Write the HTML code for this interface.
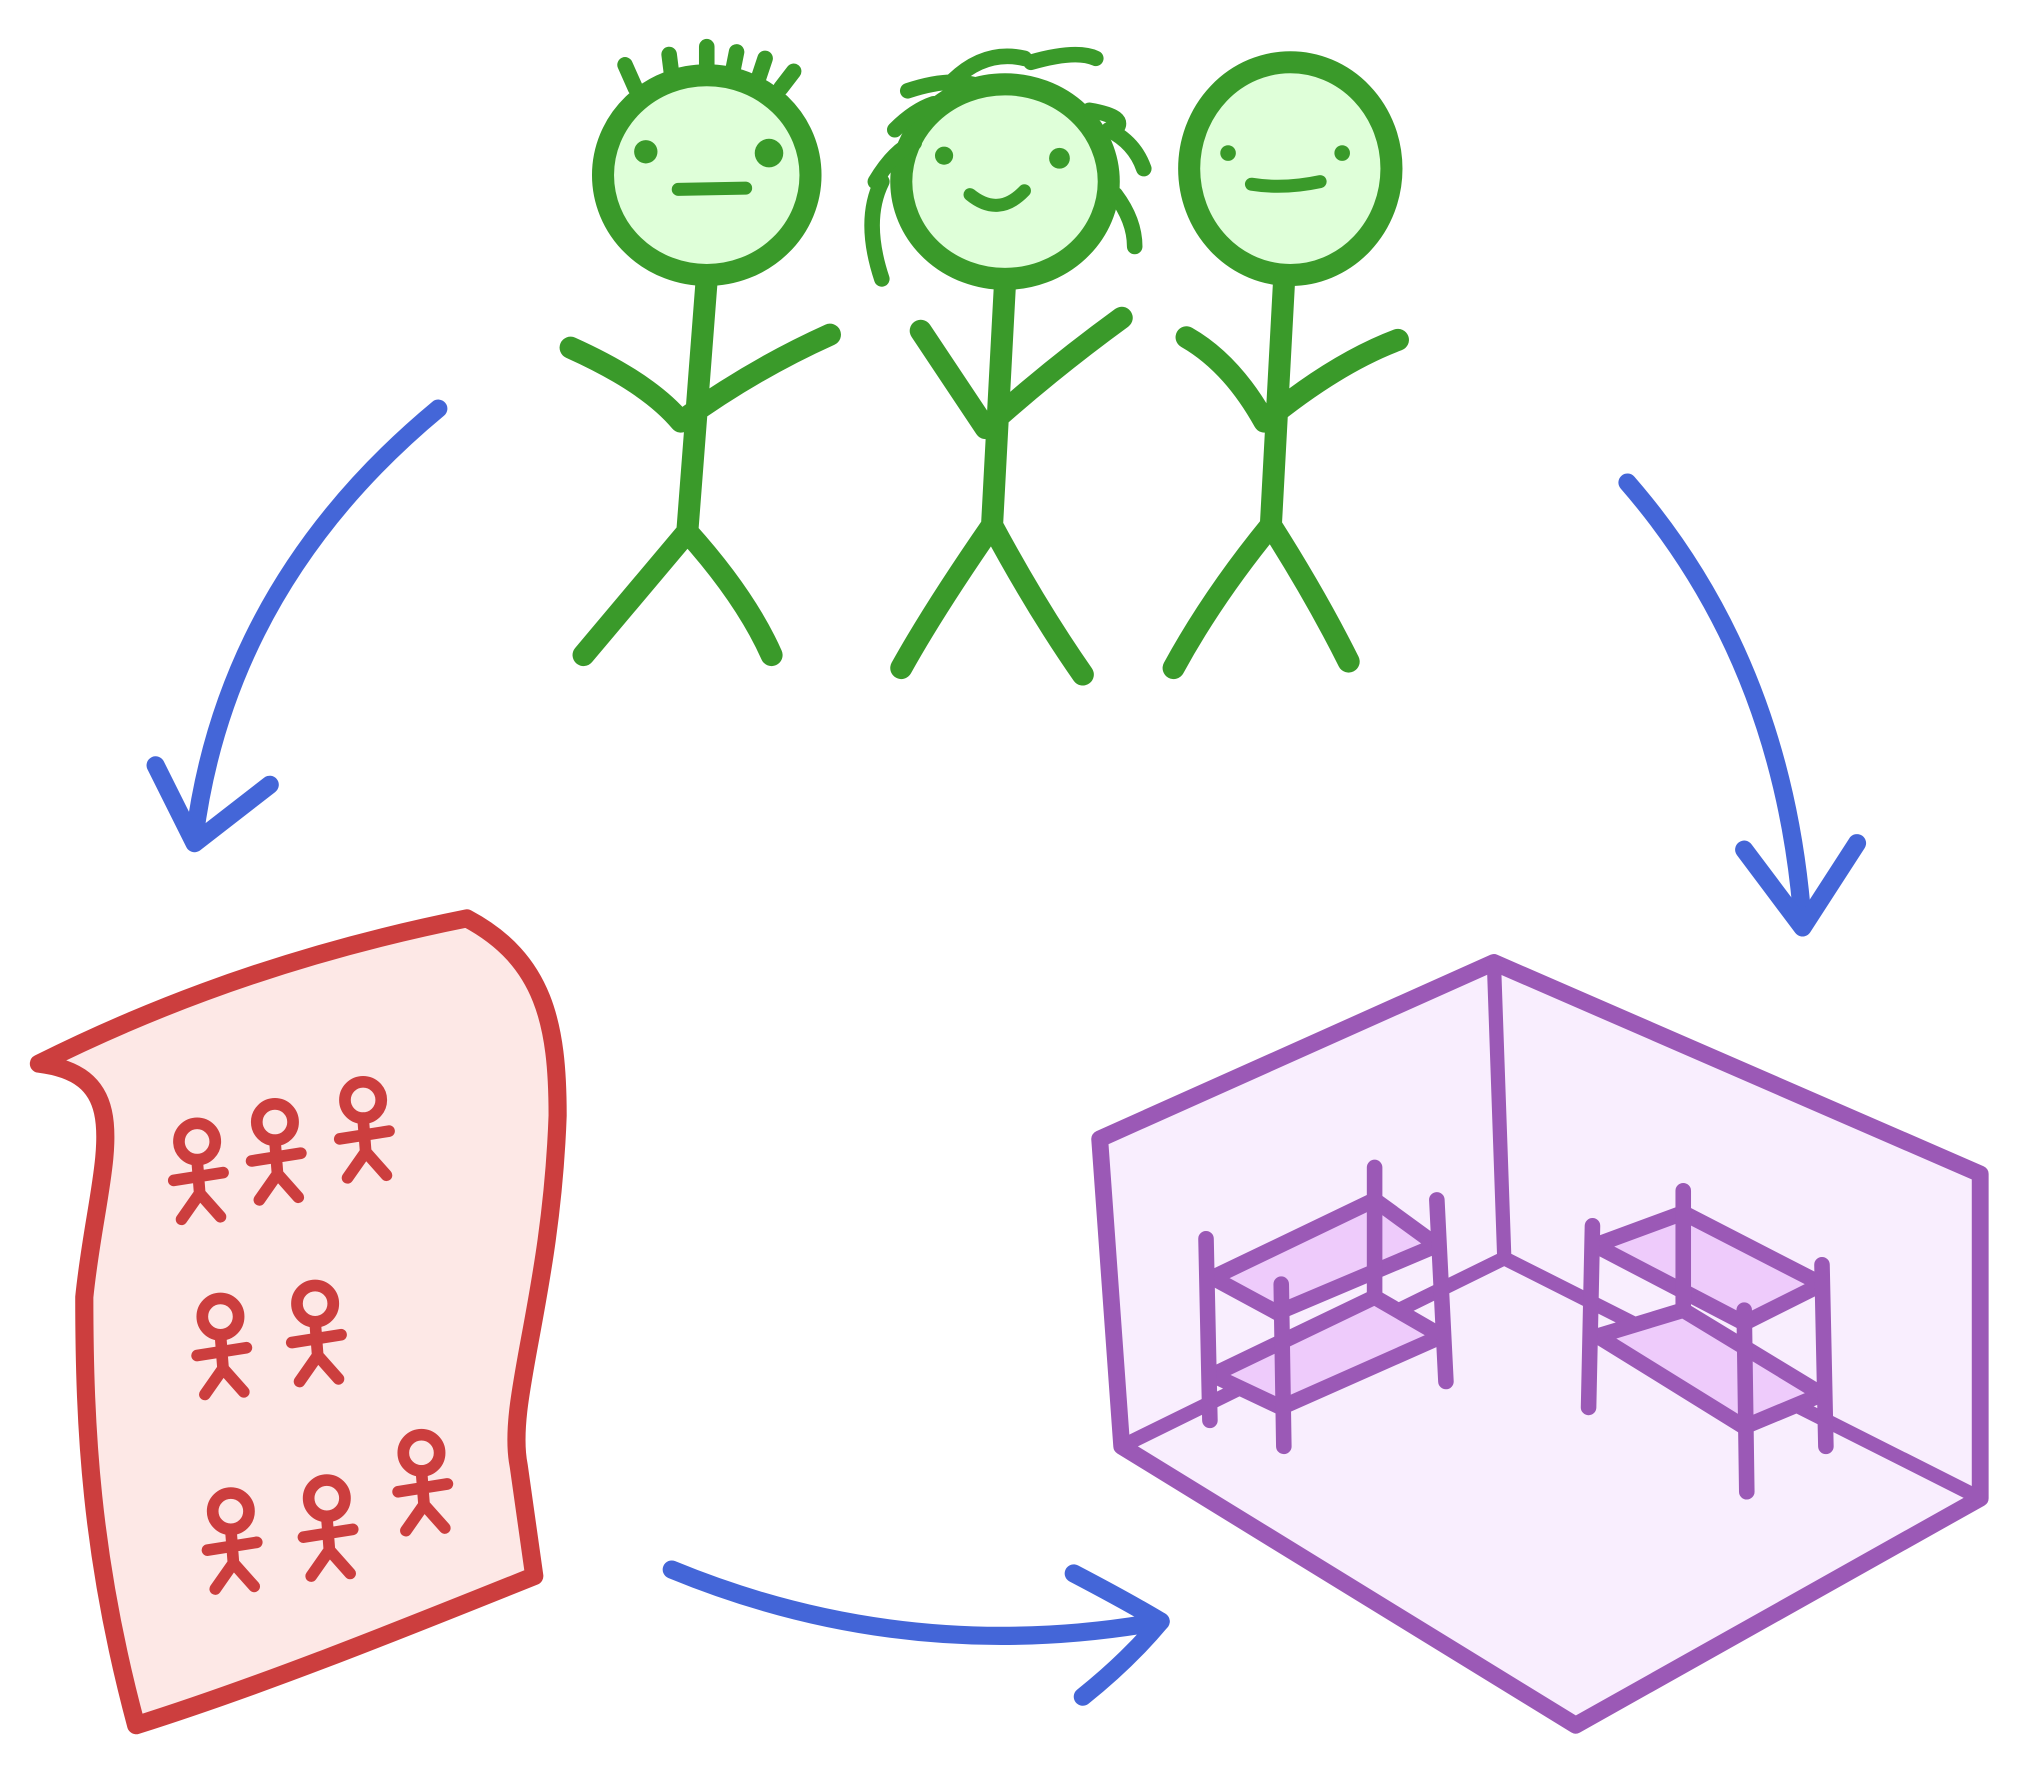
<!DOCTYPE html>
<html><head><meta charset="utf-8"><style>
html,body{margin:0;padding:0;background:#fff;}
svg{display:block;}
</style></head><body>
<svg width="2023" height="1781" viewBox="0 0 1560 1373" preserveAspectRatio="none" xmlns="http://www.w3.org/2000/svg">
<defs>
<g id="mini" fill="none" stroke="#cc3e3e" stroke-width="9" stroke-linecap="round" stroke-linejoin="round">
  <ellipse cx="0" cy="0" rx="14" ry="14"/>
  <path d="M0,14 L2,40 M-18,30 L20,24 M2,40 L-12,60 M2,40 L18,58"/>
</g>
</defs>
<g fill="none" stroke-linecap="round" stroke-linejoin="round">
<g stroke="#3a9a2a" stroke-width="17">
  <ellipse cx="545" cy="135" rx="80" ry="77" fill="#dfffd9"/>
  <path d="M545,215 L530,410 M440,268 Q500,295 525,325 Q580,285 640,258 M530,410 L450,505 M530,410 Q575,460 595,505"/>
  <path d="M482,50 L490,68 M516,42 L518,58 M545,36 L545,52 M568,40 L565,55 M590,45 L585,60 M612,55 L602,68" stroke-width="12"/>
  <ellipse cx="775" cy="140" rx="80" ry="75" fill="#dfffd9"/>
  <path d="M775,218 L765,405 M710,255 Q740,300 760,330 Q810,285 865,245 M765,405 Q720,470 695,515 M765,405 Q800,470 835,520"/>
  <path d="M735,62 Q760,38 790,45 M795,48 Q830,38 845,45 M700,70 Q730,60 750,65 M690,100 Q705,85 720,80 M675,140 Q690,115 705,110 M680,215 Q665,170 680,140 M840,85 Q870,90 860,100 M855,100 Q875,110 882,130 M860,150 Q875,170 875,190" stroke-width="12"/>
  <ellipse cx="995" cy="130" rx="78" ry="82" fill="#dfffd9"/>
  <path d="M990,220 L980,405 M915,260 Q950,280 975,325 Q1030,280 1078,262 M980,405 Q935,460 905,515 M980,405 Q1015,460 1040,510"/>
</g>
<g fill="#3a9a2a">
  <circle cx="498" cy="117" r="9"/><circle cx="593" cy="118" r="11"/>
  <circle cx="728" cy="120" r="7"/><circle cx="817" cy="122" r="8"/>
  <circle cx="947" cy="118" r="6"/><circle cx="1035" cy="118" r="6"/>
</g>
<g stroke="#3a9a2a" stroke-width="10">
  <path d="M523,146 L575,145"/>
  <path d="M748,150 Q770,168 790,147"/>
  <path d="M965,142 Q990,146 1018,140"/>
</g>
<g stroke="#4466d8" stroke-width="14">
  <path d="M338,315 Q175,450 150,645"/>
  <path d="M120,590 L150,650 L208,605"/>
  <path d="M1255,372 Q1375,510 1390,710"/>
  <path d="M1345,655 L1390,715 L1432,650"/>
  <path d="M518,1210 Q700,1285 895,1250"/>
  <path d="M828,1213 Q870,1235 895,1250 Q870,1280 835,1308"/>
</g>
<path d="M30,820 C90,790 200,740 360,708 C420,740 430,790 430,860 C425,1000 390,1080 400,1130 L412,1215 C300,1260 200,1300 105,1330 C70,1200 65,1100 65,1000 C75,900 110,830 30,820 Z" fill="#fde8e6" stroke="#cc3e3e" stroke-width="14"/>
<use href="#mini" x="152" y="880"/><use href="#mini" x="212" y="865"/><use href="#mini" x="280" y="848"/>
<use href="#mini" x="170" y="1015"/><use href="#mini" x="243" y="1005"/>
<use href="#mini" x="178" y="1165"/><use href="#mini" x="252" y="1155"/><use href="#mini" x="325" y="1120"/>
<g stroke="#9b59b6" stroke-width="13">
  <path d="M848,878 L1152,742 L1527,905 L1527,1155 L1215,1330 L865,1115 Z" fill="#f9eefe"/>
  <path d="M1152,742 L1160,970 M1160,970 L865,1115 M1160,970 L1527,1155" stroke-width="11"/>
</g>
<g stroke="#9b59b6" stroke-width="12" fill="#eecbfb">
  <path d="M935,985 L1060,925 L1108,960 L985,1012 Z"/>
  <path d="M935,1060 L1060,1000 L1112,1030 L988,1085 Z"/>
  <path d="M930,955 L933,1095 M988,990 L990,1115 M1060,900 L1060,1000 M1108,925 L1115,1065"/>
  <path d="M1230,960 L1298,935 L1405,990 L1345,1020 Z"/>
  <path d="M1232,1030 L1298,1010 L1405,1075 L1345,1100 Z"/>
  <path d="M1228,945 L1225,1085 M1298,918 L1298,1010 M1345,1010 L1347,1150 M1405,975 L1408,1115"/>
</g>
</g>
</svg>
</body></html>
